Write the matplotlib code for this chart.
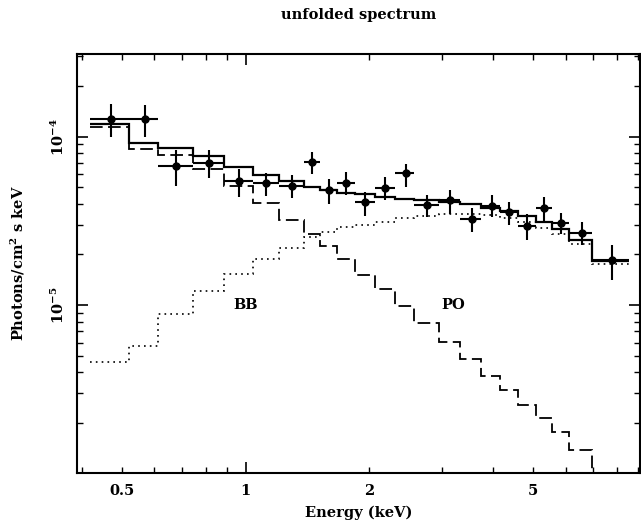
import numpy as np
import matplotlib.pyplot as plt
from matplotlib.ticker import LogLocator, FuncFormatter, NullFormatter

plt.rcParams['font.family'] = 'DejaVu Serif'
plt.rcParams['font.weight'] = 'bold'
plt.rcParams['axes.labelweight'] = 'bold'
plt.rcParams['mathtext.fontset'] = 'dejavuserif'
plt.rcParams['mathtext.default'] = 'bf'

# channel bins (keV)
bin_edges = [0.418, 0.520, 0.611, 0.744, 0.884, 1.040, 1.209, 1.383, 1.521, 1.672,
             1.849, 2.068, 2.312, 2.572, 2.958, 3.325, 3.740, 4.158, 4.599, 5.086,
             5.561, 6.113, 6.956, 8.551]

# unfolded data points
energy = [0.470, 0.568, 0.679, 0.815, 0.962, 1.124, 1.298, 1.449, 1.593, 1.759,
          1.948, 2.187, 2.449, 2.761, 3.145, 3.550, 3.977, 4.373, 4.845, 5.318,
          5.838, 6.589, 7.762]
flux = [1.28e-4, 1.265e-4, 6.68e-5, 6.96e-5, 5.47e-5, 5.30e-5, 5.11e-5, 7.03e-5, 4.80e-5, 5.30e-5,
        4.07e-5, 4.93e-5, 6.05e-5, 3.92e-5, 4.20e-5, 3.23e-5, 3.88e-5, 3.58e-5, 2.96e-5, 3.78e-5,
        3.08e-5, 2.69e-5, 1.85e-5]
flux_hi = [1.57e-4, 1.54e-4, 8.32e-5, 8.32e-5, 6.47e-5, 6.10e-5, 5.91e-5, 8.06e-5, 5.57e-5, 6.18e-5,
           4.70e-5, 5.77e-5, 6.93e-5, 4.50e-5, 4.81e-5, 3.75e-5, 4.50e-5, 4.10e-5, 3.50e-5, 4.39e-5,
           3.53e-5, 3.10e-5, 2.27e-5]
flux_lo = [9.97e-5, 9.97e-5, 5.08e-5, 5.65e-5, 4.39e-5, 4.43e-5, 4.30e-5, 5.99e-5, 4.01e-5, 4.50e-5,
           3.37e-5, 4.20e-5, 5.04e-5, 3.34e-5, 3.50e-5, 2.72e-5, 3.32e-5, 2.99e-5, 2.43e-5, 3.15e-5,
           2.66e-5, 2.29e-5, 1.41e-5]

# model components per bin
model_total = [1.19e-4, 9.11e-5, 8.58e-5, 7.66e-5, 6.62e-5, 5.96e-5, 5.44e-5, 5.05e-5, 4.81e-5, 4.64e-5,
               4.54e-5, 4.39e-5, 4.24e-5, 4.20e-5, 4.11e-5, 3.96e-5, 3.79e-5, 3.60e-5, 3.40e-5, 3.12e-5,
               2.82e-5, 2.44e-5, 1.82e-5]
model_po = [1.14e-4, 8.43e-5, 7.77e-5, 6.46e-5, 5.08e-5, 4.06e-5, 3.22e-5, 2.66e-5, 2.24e-5, 1.88e-5,
            1.52e-5, 1.24e-5, 9.86e-6, 7.85e-6, 6.06e-6, 4.78e-6, 3.79e-6, 3.13e-6, 2.57e-6, 2.13e-6,
            1.76e-6, 1.39e-6, 9.5e-7]
model_bb = [4.61e-6, 5.71e-6, 8.81e-6, 1.22e-5, 1.53e-5, 1.88e-5, 2.19e-5, 2.53e-5, 2.72e-5, 2.92e-5,
            2.99e-5, 3.12e-5, 3.27e-5, 3.37e-5, 3.47e-5, 3.49e-5, 3.42e-5, 3.27e-5, 3.11e-5, 2.88e-5,
            2.66e-5, 2.30e-5, 1.75e-5]

xtick_labels = [0.5, 1, 2, 5]

fig = plt.figure(figsize=(6.41, 5.25), dpi=100)
ax = fig.add_axes([0.1201, 0.099, 0.8783, 0.798])

ax.stairs(model_total, bin_edges, baseline=None, color='k', lw=1.6)
ax.stairs(model_po, bin_edges, baseline=None, color='k', lw=1.3, linestyle=(0, (7, 3)))
ax.stairs(model_bb, bin_edges, baseline=None, color='k', lw=1.2, linestyle=(0, (1, 2.5)))

e = np.array(energy)
f = np.array(flux)
lo = np.array(bin_edges[:-1])
hi = np.array(bin_edges[1:])
ax.errorbar(e, f, xerr=[e - lo, hi - e], yerr=[f - np.array(flux_lo), np.array(flux_hi) - f],
            fmt='o', color='k', ms=5, elinewidth=1.5, capsize=0)

ax.text(1.0, 1e-5, 'BB', ha='center', va='center', fontsize=10.5)
ax.text(3.19, 1e-5, 'PO', ha='center', va='center', fontsize=10.5)

ax.set_xscale('log')
ax.set_yscale('log')
ax.set_xlim(0.389, 9.1)
ax.set_ylim(1.01e-6, 3.09e-4)


def xfmt(v, pos):
    for t in xtick_labels:
        if np.isclose(v, t):
            return '%g' % t
    return ''


ax.xaxis.set_major_locator(LogLocator(base=10))
ax.xaxis.set_minor_locator(LogLocator(base=10, subs=np.arange(2, 10)))
ax.xaxis.set_major_formatter(FuncFormatter(xfmt))
ax.xaxis.set_minor_formatter(FuncFormatter(xfmt))
ax.yaxis.set_major_locator(LogLocator(base=10, numticks=20))
ax.yaxis.set_minor_locator(LogLocator(base=10, subs=np.arange(2, 10), numticks=20))
ax.yaxis.set_minor_formatter(NullFormatter())

ax.tick_params(which='both', direction='in', top=True, right=True, labelsize=10.5)
ax.tick_params(which='major', length=8, width=1.2)
ax.tick_params(which='minor', length=4, width=1.0)
ax.tick_params(axis='x', which='both', pad=8)
ax.tick_params(axis='y', which='major', labelrotation=90, pad=7)
for lab in ax.get_yticklabels():
    lab.set_va('center')
for s in ax.spines.values():
    s.set_linewidth(1.5)

ax.set_xlabel('Energy (keV)', fontsize=10.5)
ax.xaxis.set_label_coords(0.5, -0.095)
ax.xaxis.label.set_va('center')
ax.set_ylabel('Photons/cm$^2$ s keV', fontsize=10.5)
ax.yaxis.set_label_coords(-0.105, 0.5)
ax.yaxis.label.set_va('center')

fig.text(0.5601, 1 - 15 / 525, 'unfolded spectrum', ha='center', va='center', fontsize=10.5)

fig.savefig('out.png', dpi=100)
